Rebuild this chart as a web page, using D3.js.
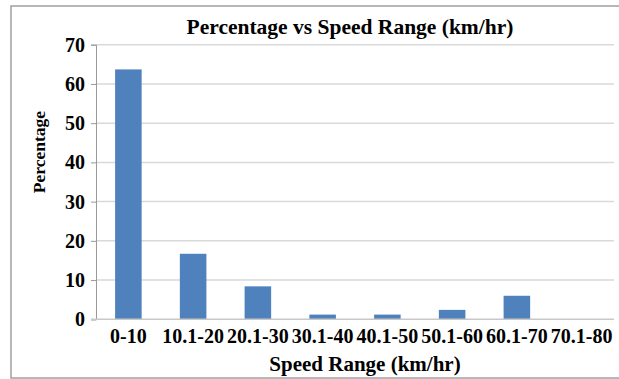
<!DOCTYPE html>
<html>
<head>
<meta charset="utf-8">
<script src="https://cdn.jsdelivr.net/npm/d3@7"></script>
<style>
  body { margin: 0; background: #fff; }
  text { font-family: "Liberation Serif", "Times New Roman", serif; font-weight: bold; fill: #000; }
</style>
</head>
<body>
<svg id="chart" width="619" height="379"></svg>
<script>
// speed ranges and share of vehicles (%)
var ranges = ["0-10", "10.1-20", "20.1-30", "30.1-40", "40.1-50", "50.1-60", "60.1-70", "70.1-80"];
var percents = [63.7, 16.7, 8.4, 1.2, 1.2, 2.4, 6.0, 0];
var yTicks = [0, 10, 20, 30, 40, 50, 60, 70];

var svg = d3.select("#chart");

// outer frame (right side runs off the picture)
svg.append("rect")
  .attr("x", 11).attr("y", 6)
  .attr("width", 620).attr("height", 372)
  .attr("fill", "none")
  .attr("stroke", "#a0a0a0")
  .attr("stroke-width", 1.5);

var plotLeft = 96, plotRight = 614, plotTop = 44.7, plotBottom = 319.3;

var x = d3.scaleBand()
  .domain(ranges)
  .range([plotLeft, plotRight])
  .paddingInner(0.59)
  .paddingOuter(0.295);

var y = d3.scaleLinear()
  .domain([0, 70])
  .range([plotBottom, plotTop]);

// gridlines
svg.append("g")
  .selectAll("line")
  .data(yTicks.slice(1))
  .enter()
  .append("line")
  .attr("x1", plotLeft).attr("x2", plotRight)
  .attr("y1", function(d){ return y(d); })
  .attr("y2", function(d){ return y(d); })
  .attr("stroke", "#d9d9d9")
  .attr("stroke-width", 1.5);

// y axis
var yAxis = svg.append("g")
  .attr("transform", "translate(" + plotLeft + ",0)")
  .call(d3.axisLeft(y).tickValues(yTicks).tickSize(5).tickPadding(6));
yAxis.select(".domain").attr("stroke", "#999").attr("stroke-width", 1);
yAxis.selectAll(".tick line").attr("stroke", "#999");
yAxis.selectAll("text")
  .attr("font-size", 20)
  .attr("font-family", "Liberation Serif")
  .attr("font-weight", "bold")
  .attr("fill", "#000");

// bars
svg.selectAll(".bar")
  .data(percents)
  .enter()
  .append("rect")
  .attr("class", "bar")
  .attr("x", function(d, i){ return x(ranges[i]); })
  .attr("y", function(d){ return y(d); })
  .attr("width", x.bandwidth())
  .attr("height", function(d){ return plotBottom - y(d); })
  .attr("fill", "#4f81bd");

// x axis
var xAxis = svg.append("g")
  .attr("transform", "translate(0," + plotBottom + ")")
  .call(d3.axisBottom(x).tickSize(0).tickPadding(10));
xAxis.select(".domain").attr("stroke", "#c8c8c8").attr("stroke-width", 1.5)
  .attr("d", "M" + (plotLeft - 5) + ",0H" + plotRight);
xAxis.selectAll("text")
  .attr("font-size", 20)
  .attr("font-family", "Liberation Serif")
  .attr("font-weight", "bold")
  .attr("fill", "#000");

// titles
svg.append("text")
  .attr("x", 350).attr("y", 34)
  .attr("text-anchor", "middle")
  .attr("font-size", 21.5)
  .text("Percentage vs Speed Range (km/hr)");

svg.append("text")
  .attr("x", 365).attr("y", 371)
  .attr("text-anchor", "middle")
  .attr("font-size", 21)
  .text("Speed Range (km/hr)");

svg.append("text")
  .attr("transform", "translate(45,152) rotate(-90)")
  .attr("text-anchor", "middle")
  .attr("font-size", 17.5)
  .text("Percentage");
</script>
</body>
</html>
